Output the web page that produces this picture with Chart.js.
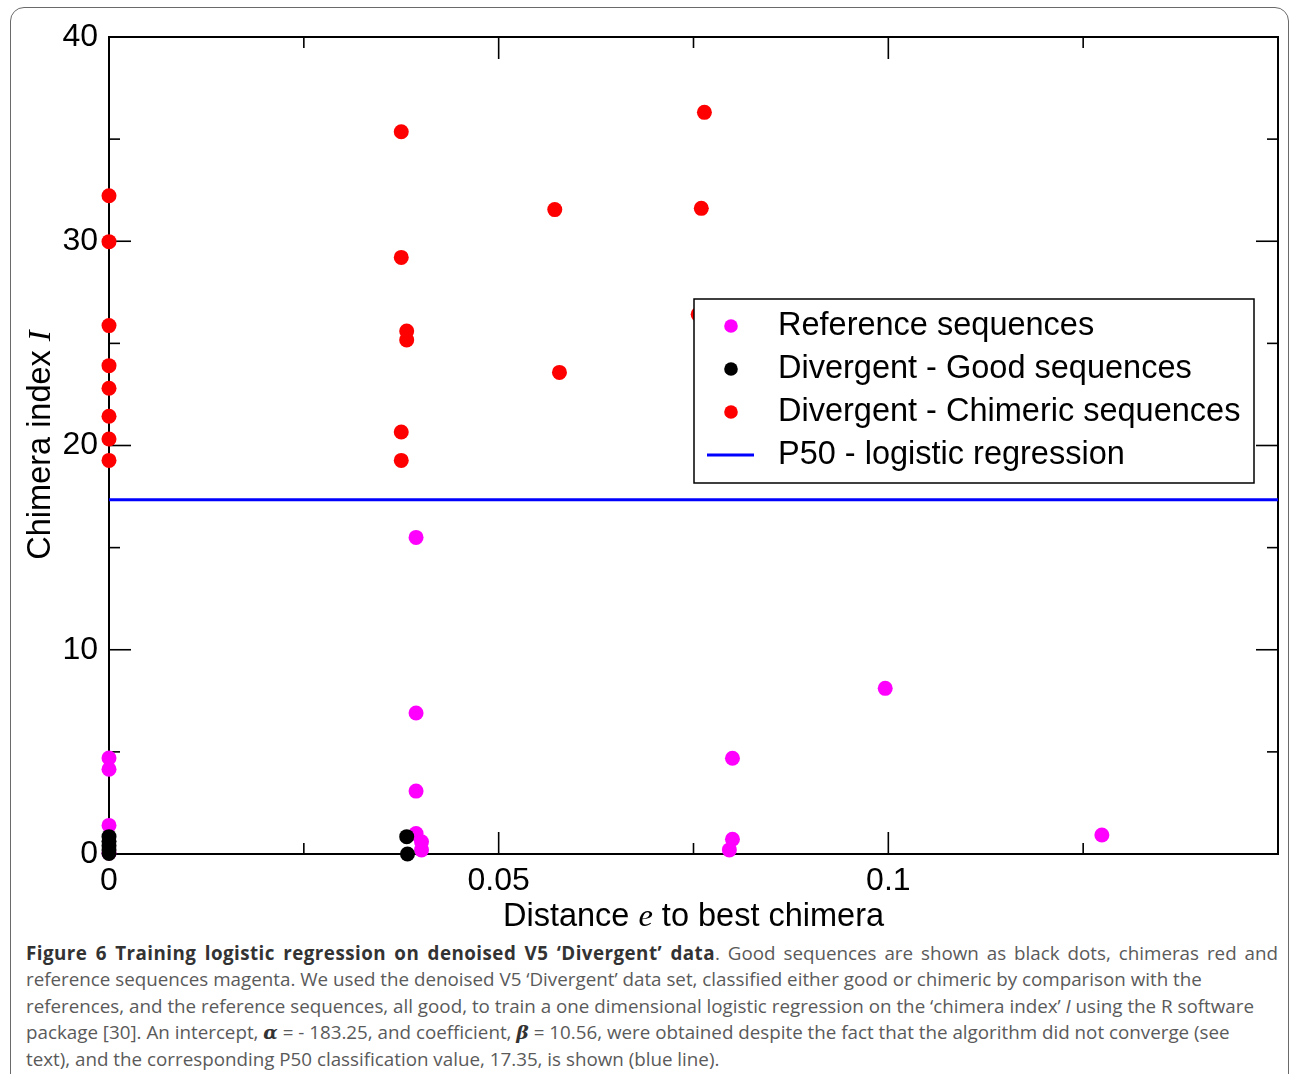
<!DOCTYPE html>
<html><head><meta charset="utf-8">
<script src="https://cdn.jsdelivr.net/npm/chart.js@4"></script>
<style>
html,body{margin:0;padding:0;background:#fff;width:1290px;height:1074px;overflow:hidden;}
#frame{position:absolute;left:10px;top:7px;width:1279px;height:1120px;border:1.5px solid #6a6a6a;border-radius:14px;box-sizing:border-box;}
#wrap{position:absolute;left:0;top:0;width:1290px;height:940px;}
#caption{position:absolute;left:26px;top:940px;font-family:"Open Sans",sans-serif;font-size:18.8px;line-height:26.4px;color:#5a5a5a;white-space:nowrap;}
#caption b{color:#333;letter-spacing:0.45px;}
#caption .l1{display:inline-block;width:1252px;text-align:justify;text-align-last:justify;}
#caption .g{font-family:"DejaVu Serif",serif;font-style:italic;font-weight:bold;color:#333;}
</style></head>
<body>
<div id="frame"></div>
<div id="wrap"><canvas id="c" width="1290" height="940"></canvas></div>
<div id="caption"><span class="l1"><b>Figure 6 Training logistic regression on denoised V5 ‘Divergent’ data</b>. Good sequences are shown as black dots, chimeras red and</span><br>reference sequences magenta. We used the denoised V5 ‘Divergent’ data set, classified either good or chimeric by comparison with the<br>references, and the reference sequences, all good, to train a one dimensional logistic regression on the ‘chimera index’ <i>I</i> using the R software<br>package [30]. An intercept, <span class="g">α</span> = - 183.25, and coefficient, <span class="g">β</span> = 10.56, were obtained despite the fact that the algorithm did not converge (see<br>text), and the corresponding P50 classification value, 17.35, is shown (blue line).</div>
<script>
// ---- data ----
const refX  = [0, 0, 0, 0, 0.0394, 0.0394, 0.0394, 0.0394, 0.0401, 0.0401, 0.0800, 0.0800, 0.0796, 0.0996, 0.1274];
const refY  = [4.7, 4.15, 1.4, 0.05, 15.5, 6.9, 3.08, 1.0, 0.6, 0.2, 4.69, 0.72, 0.2, 8.11, 0.93];
const goodX = [0, 0, 0, 0, 0, 0.0382, 0.0383];
const goodY = [0.85, 0.62, 0.4, 0.2, 0.03, 0.85, 0.0];
const chimX = [0, 0, 0, 0, 0, 0, 0, 0, 0.0375, 0.0375, 0.0382, 0.0382, 0.0375, 0.0375, 0.0572, 0.0578, 0.0764, 0.0760, 0.0756];
const chimY = [32.23, 29.98, 25.87, 23.91, 22.80, 21.43, 20.32, 19.27, 35.36, 29.21, 25.6, 25.17, 20.66, 19.27, 31.55, 23.58, 36.31, 31.61, 26.42];
const p50 = 17.35;
const xRange = [0, 0.15];
const yRange = [0, 40];
const xTickValues = [0, 0.05, 0.1];
const xTickLabels = ['0', '0.05', '0.1'];
const xMajorTicks = [0.05, 0.1];
const xMinorTicks = [0.025, 0.075, 0.125];
const yTickValues = [0, 10, 20, 30, 40];
const yTickLabels = ['0', '10', '20', '30', '40'];
const yMajorTicks = [10, 20, 30];
const yMinorTicks = [5, 15, 25, 35];
const seriesNames = ['Reference sequences', 'Divergent - Good sequences', 'Divergent - Chimeric sequences', 'P50 - logistic regression'];

const pts = (xs, ys) => xs.map((x, i) => ({x, y: ys[i]}));
const SANS = '"Liberation Sans", Arial, sans-serif';

const framePlugin = {
  id: 'frame',
  beforeDatasetsDraw(chart) {
    const {ctx, chartArea: a, scales: {x, y}} = chart;
    ctx.save();
    ctx.strokeStyle = '#000';
    ctx.lineWidth = 1.6;
    const line = (x1, y1, x2, y2) => { ctx.beginPath(); ctx.moveTo(x1, y1); ctx.lineTo(x2, y2); ctx.stroke(); };
    const doX = (vals, len) => vals.forEach(v => { const p = x.getPixelForValue(v); line(p, a.bottom, p, a.bottom - len); line(p, a.top, p, a.top + len); });
    const doY = (vals, len) => vals.forEach(v => { const p = y.getPixelForValue(v); line(a.left, p, a.left + len, p); line(a.right, p, a.right - len, p); });
    doX(xMajorTicks, 22); doX(xMinorTicks, 11);
    doY(yMajorTicks, 22); doY(yMinorTicks, 11);
    ctx.lineWidth = 2;
    ctx.strokeRect(a.left, a.top, a.right - a.left, a.bottom - a.top);
    ctx.restore();
  },
  afterDraw(chart) {
    const {ctx, chartArea: a} = chart;
    ctx.save();
    ctx.fillStyle = '#000';
    ctx.textBaseline = 'alphabetic';
    const fs = 32.5;
    const sans = fs + 'px ' + SANS;
    const ital = 'italic ' + fs + 'px "Liberation Serif", "DejaVu Serif", serif';
    // x title
    const parts = [['Distance ', sans], ['e', ital], [' to best chimera', sans]];
    let w = 0; parts.forEach(p => { ctx.font = p[1]; w += ctx.measureText(p[0]).width; });
    let cx = (a.left + a.right) / 2 - w / 2;
    parts.forEach(p => { ctx.font = p[1]; ctx.fillText(p[0], cx, 926); cx += ctx.measureText(p[0]).width; });
    // y title
    const yparts = [['Chimera index ', sans], ['I', ital]];
    ctx.translate(50, 445);
    ctx.rotate(-Math.PI / 2);
    w = 0; yparts.forEach(p => { ctx.font = p[1]; w += ctx.measureText(p[0]).width; });
    cx = -w / 2;
    yparts.forEach(p => { ctx.font = p[1]; ctx.fillText(p[0], cx, 0); cx += ctx.measureText(p[0]).width; });
    ctx.setTransform(1, 0, 0, 1, 0, 0);
    // legend
    const bx = 694, by = 299, bw = 560, bh = 184;
    ctx.fillStyle = '#fff';
    ctx.fillRect(bx, by, bw, bh);
    ctx.strokeStyle = '#000'; ctx.lineWidth = 1.5;
    ctx.strokeRect(bx, by, bw, bh);
    const rows = [326, 369, 412, 455];
    ctx.font = '32.5px ' + SANS;
    ctx.textBaseline = 'middle';
    chart.data.datasets.forEach((ds, i) => {
      const ry = rows[i];
      if (ds.showLine) {
        ctx.strokeStyle = ds.borderColor; ctx.lineWidth = 3;
        ctx.beginPath(); ctx.moveTo(707, ry); ctx.lineTo(754, ry); ctx.stroke();
      } else {
        ctx.fillStyle = ds.backgroundColor;
        ctx.beginPath(); ctx.arc(731, ry, 6.8, 0, Math.PI * 2); ctx.fill();
      }
      ctx.fillStyle = '#000';
      ctx.fillText(ds.label, 778, ry);
    });
    ctx.restore();
  }
};

const pointDs = (label, data, color, order) => ({
  label, data, backgroundColor: color, borderColor: color, borderWidth: 0,
  pointRadius: 7.5, pointHoverRadius: 7.5, showLine: false, clip: false, order
});

new Chart(document.getElementById('c'), {
  type: 'scatter',
  data: {
    datasets: [
      pointDs(seriesNames[0], pts(refX, refY), '#ff00ff', 3),
      pointDs(seriesNames[1], pts(goodX, goodY), '#000000', 2),
      pointDs(seriesNames[2], pts(chimX, chimY), '#ff0000', 1),
      { label: seriesNames[3], type: 'line', data: [{x: xRange[0], y: p50}, {x: xRange[1], y: p50}],
        borderColor: '#0000ff', backgroundColor: '#0000ff', borderWidth: 3, pointRadius: 0, showLine: true, order: 4 }
    ]
  },
  options: {
    responsive: false, animation: false, devicePixelRatio: 1,
    layout: { padding: { top: 37, right: 12, left: 0, bottom: 0 } },
    plugins: { legend: { display: false }, tooltip: { enabled: false } },
    events: [],
    scales: {
      x: {
        type: 'linear', min: xRange[0], max: xRange[1],
        grid: { display: false, drawTicks: false, tickLength: 0 },
        border: { display: false },
        ticks: { font: { family: SANS, size: 32 }, color: '#000', padding: 8, maxRotation: 0,
          callback: (v) => { const i = xTickValues.indexOf(v); return i >= 0 ? xTickLabels[i] : ''; } },
        afterBuildTicks: (s) => { s.ticks = xTickValues.map(v => ({value: v})); },
        afterFit: (s) => { s.height = 86; }
      },
      y: {
        type: 'linear', min: yRange[0], max: yRange[1],
        grid: { display: false, drawTicks: false, tickLength: 0 },
        border: { display: false },
        ticks: { font: { family: SANS, size: 32 }, color: '#000', padding: 11,
          callback: (v) => { const i = yTickValues.indexOf(v); return i >= 0 ? yTickLabels[i] : ''; } },
        afterBuildTicks: (s) => { s.ticks = yTickValues.map(v => ({value: v})); },
        afterFit: (s) => { s.width = 109; }
      }
    }
  },
  plugins: [framePlugin]
});
</script>
</body></html>
